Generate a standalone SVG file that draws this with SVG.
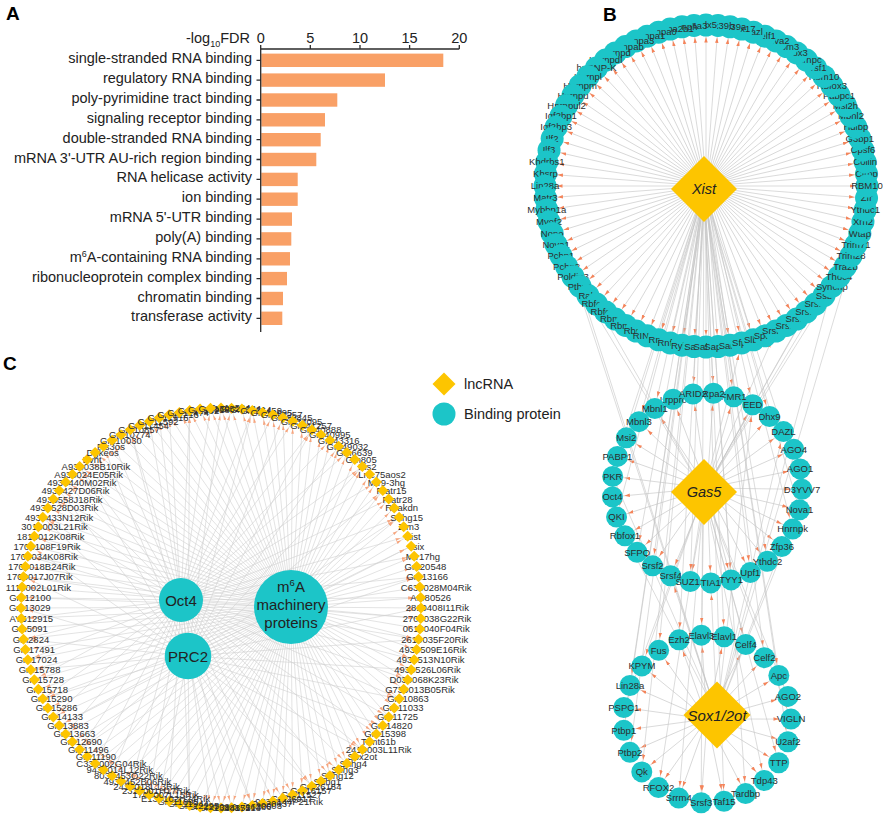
<svg xmlns="http://www.w3.org/2000/svg" width="886" height="818" viewBox="0 0 886 818">
<style>
text{font-family:"Liberation Sans",Arial,Helvetica,sans-serif;fill:#222}
.pl{font-size:19px;font-weight:bold;fill:#000}
.cat{font-size:14.5px;text-anchor:end}
.tk{font-size:14.5px;text-anchor:middle}
.bar{fill:#F9A066}
.ax{stroke:#2b2b2b;stroke-width:1.3;fill:none}
.eb path{stroke:#c4c4c4;stroke-width:.6;fill:none;marker-end:url(#ab)}
.ec path{stroke:#d0d0d0;stroke-width:.6;fill:none;marker-end:url(#ac)}
.pr circle{fill:#1CC5C8}
.pr text{font-size:9.5px;text-anchor:middle;fill:#2d2d2d}
.ln polygon{fill:#FDC500}
.ln text{font-size:14.5px;font-style:italic;text-anchor:middle;fill:#222}
.cr text{font-size:9.5px;text-anchor:middle;fill:#2d2d2d}
.cr use{fill:#FDC500}
.hub circle{fill:#1CC5C8}
.hub text{font-size:15px;text-anchor:middle;fill:#222}
.lg text{font-size:14.5px}
</style>
<defs>
<marker id="ab" markerUnits="userSpaceOnUse" markerWidth="20" markerHeight="8" viewBox="0 0 20 8" refX="17.5" refY="4" orient="auto"><path d="M0 2.3L5.5 4 0 5.7z" fill="#F4845A"/></marker>
<marker id="ac" markerUnits="userSpaceOnUse" markerWidth="20" markerHeight="8" viewBox="0 0 20 8" refX="12.5" refY="4" orient="auto"><path d="M0 2.6L5 4 0 5.4z" fill="#F6A57E"/></marker>
<path id="dm" d="M0-5.5 5.5 0 0 5.5-5.5 0z"/>
</defs>

<!-- Panel A -->
<g id="panelA">
<text class="pl" x="6" y="20">A</text>
<text class="tk" x="250" y="43" text-anchor="end" style="text-anchor:end">-log<tspan font-size="9" dy="4">10</tspan><tspan dy="-4">FDR</tspan></text>
<text class="tk" x="260.7" y="43">0</text>
<text class="tk" x="310.3" y="43">5</text>
<text class="tk" x="360" y="43">10</text>
<text class="tk" x="409.6" y="43">15</text>
<text class="tk" x="459.3" y="43">20</text>
<g id="bars">
<rect class="bar" x="261.3" y="53.6" width="182" height="13.4"/>
<rect class="bar" x="261.3" y="73.4" width="123.7" height="13.4"/>
<rect class="bar" x="261.3" y="93.3" width="76" height="13.4"/>
<rect class="bar" x="261.3" y="113.1" width="63.7" height="13.4"/>
<rect class="bar" x="261.3" y="133" width="59.4" height="13.4"/>
<rect class="bar" x="261.3" y="152.8" width="55" height="13.4"/>
<rect class="bar" x="261.3" y="172.7" width="36.4" height="13.4"/>
<rect class="bar" x="261.3" y="192.5" width="36.4" height="13.4"/>
<rect class="bar" x="261.3" y="212.4" width="30.7" height="13.4"/>
<rect class="bar" x="261.3" y="232.2" width="30" height="13.4"/>
<rect class="bar" x="261.3" y="252.1" width="28.7" height="13.4"/>
<rect class="bar" x="261.3" y="271.9" width="25.7" height="13.4"/>
<rect class="bar" x="261.3" y="291.8" width="21.7" height="13.4"/>
<rect class="bar" x="261.3" y="311.6" width="21" height="13.4"/>
</g>
<path class="ax" d="M260.7 49H459.3M260.7 49V332M260.7 49v-4M310.3 49v-4M360 49v-4M409.6 49v-4M459.3 49v-4M256.5 60.3h4.2M256.5 80.1h4.2M256.5 100h4.2M256.5 119.8h4.2M256.5 139.7h4.2M256.5 159.5h4.2M256.5 179.4h4.2M256.5 199.2h4.2M256.5 219.1h4.2M256.5 238.9h4.2M256.5 258.8h4.2M256.5 278.6h4.2M256.5 298.5h4.2M256.5 318.3h4.2"/>
<text class="cat" x="252" y="63.3">single-stranded RNA binding</text>
<text class="cat" x="252" y="83.1">regulatory RNA binding</text>
<text class="cat" x="252" y="103">poly-pyrimidine tract binding</text>
<text class="cat" x="252" y="122.8">signaling receptor binding</text>
<text class="cat" x="252" y="142.7">double-stranded RNA binding</text>
<text class="cat" x="252" y="162.5">mRNA 3'-UTR AU-rich region binding</text>
<text class="cat" x="252" y="182.4">RNA helicase activity</text>
<text class="cat" x="252" y="202.2">ion binding</text>
<text class="cat" x="252" y="222.1">mRNA 5'-UTR binding</text>
<text class="cat" x="252" y="241.9">poly(A) binding</text>
<text class="cat" x="252" y="261.8">m<tspan font-size="9" dy="-5">6</tspan><tspan dy="5">A-containing RNA binding</tspan></text>
<text class="cat" x="252" y="281.6">ribonucleoprotein complex binding</text>
<text class="cat" x="252" y="301.5">chromatin binding</text>
<text class="cat" x="252" y="321.3">transferase activity</text>
</g>

<!-- Panel B -->
<text class="pl" x="603" y="21">B</text>
<g id="connectorsB" class="eb">
<g transform="translate(706 186)">
<path d="M0 0V-161" transform="rotate(90)"/><path d="M0 0V-161" transform="rotate(94.29)"/><path d="M0 0V-161" transform="rotate(98.57)"/><path d="M0 0V-161" transform="rotate(102.86)"/><path d="M0 0V-161" transform="rotate(107.14)"/><path d="M0 0V-161" transform="rotate(111.43)"/><path d="M0 0V-161" transform="rotate(115.71)"/><path d="M0 0V-161" transform="rotate(120)"/><path d="M0 0V-161" transform="rotate(124.29)"/><path d="M0 0V-161" transform="rotate(128.57)"/><path d="M0 0V-161" transform="rotate(132.86)"/><path d="M0 0V-161" transform="rotate(137.14)"/><path d="M0 0V-161" transform="rotate(141.43)"/><path d="M0 0V-161" transform="rotate(145.71)"/><path d="M0 0V-161" transform="rotate(150)"/><path d="M0 0V-161" transform="rotate(154.29)"/><path d="M0 0V-161" transform="rotate(158.57)"/><path d="M0 0V-161" transform="rotate(162.86)"/><path d="M0 0V-161" transform="rotate(167.14)"/><path d="M0 0V-161" transform="rotate(171.43)"/><path d="M0 0V-161" transform="rotate(175.71)"/><path d="M0 0V-161" transform="rotate(180)"/><path d="M0 0V-161" transform="rotate(184.29)"/><path d="M0 0V-161" transform="rotate(188.57)"/><path d="M0 0V-161" transform="rotate(192.86)"/><path d="M0 0V-161" transform="rotate(197.14)"/><path d="M0 0V-161" transform="rotate(201.43)"/><path d="M0 0V-161" transform="rotate(205.71)"/><path d="M0 0V-161" transform="rotate(210)"/><path d="M0 0V-161" transform="rotate(214.29)"/><path d="M0 0V-161" transform="rotate(218.57)"/><path d="M0 0V-161" transform="rotate(222.86)"/><path d="M0 0V-161" transform="rotate(227.14)"/><path d="M0 0V-161" transform="rotate(231.43)"/><path d="M0 0V-161" transform="rotate(235.71)"/><path d="M0 0V-161" transform="rotate(240)"/><path d="M0 0V-161" transform="rotate(244.29)"/><path d="M0 0V-161" transform="rotate(248.57)"/><path d="M0 0V-161" transform="rotate(252.86)"/><path d="M0 0V-161" transform="rotate(257.14)"/><path d="M0 0V-161" transform="rotate(261.43)"/><path d="M0 0V-161" transform="rotate(265.71)"/><path d="M0 0V-161" transform="rotate(270)"/><path d="M0 0V-161" transform="rotate(274.29)"/><path d="M0 0V-161" transform="rotate(278.57)"/><path d="M0 0V-161" transform="rotate(282.86)"/><path d="M0 0V-161" transform="rotate(287.14)"/><path d="M0 0V-161" transform="rotate(291.43)"/><path d="M0 0V-161" transform="rotate(295.71)"/><path d="M0 0V-161" transform="rotate(300)"/><path d="M0 0V-161" transform="rotate(304.29)"/><path d="M0 0V-161" transform="rotate(308.57)"/><path d="M0 0V-161" transform="rotate(312.86)"/><path d="M0 0V-161" transform="rotate(317.14)"/><path d="M0 0V-161" transform="rotate(321.43)"/><path d="M0 0V-161" transform="rotate(325.71)"/><path d="M0 0V-161" transform="rotate(330)"/><path d="M0 0V-161" transform="rotate(334.29)"/><path d="M0 0V-161" transform="rotate(338.57)"/><path d="M0 0V-161" transform="rotate(342.86)"/><path d="M0 0V-161" transform="rotate(347.14)"/><path d="M0 0V-161" transform="rotate(351.43)"/><path d="M0 0V-161" transform="rotate(355.71)"/><path d="M0 0V-161"/><path d="M0 0V-161" transform="rotate(4.29)"/><path d="M0 0V-161" transform="rotate(8.57)"/><path d="M0 0V-161" transform="rotate(12.86)"/><path d="M0 0V-161" transform="rotate(17.14)"/><path d="M0 0V-161" transform="rotate(21.43)"/><path d="M0 0V-161" transform="rotate(25.71)"/><path d="M0 0V-161" transform="rotate(30)"/><path d="M0 0V-161" transform="rotate(34.29)"/><path d="M0 0V-161" transform="rotate(38.57)"/><path d="M0 0V-161" transform="rotate(42.86)"/><path d="M0 0V-161" transform="rotate(47.14)"/><path d="M0 0V-161" transform="rotate(51.43)"/><path d="M0 0V-161" transform="rotate(55.71)"/><path d="M0 0V-161" transform="rotate(60)"/><path d="M0 0V-161" transform="rotate(64.29)"/><path d="M0 0V-161" transform="rotate(68.57)"/><path d="M0 0V-161" transform="rotate(72.86)"/><path d="M0 0V-161" transform="rotate(77.14)"/><path d="M0 0V-161" transform="rotate(81.43)"/><path d="M0 0V-161" transform="rotate(85.71)"/>
</g>
<g transform="translate(707 488)">
<path d="M0 0V-95" transform="rotate(-8.5)"/><path d="M0 0V-95" transform="rotate(3.91)"/><path d="M0 0V-95" transform="rotate(16.33)"/><path d="M0 0V-95" transform="rotate(28.74)"/><path d="M0 0V-95" transform="rotate(41.16)"/><path d="M0 0V-95" transform="rotate(53.57)"/><path d="M0 0V-95" transform="rotate(65.98)"/><path d="M0 0V-95" transform="rotate(78.4)"/><path d="M0 0V-95" transform="rotate(90.81)"/><path d="M0 0V-95" transform="rotate(103.23)"/><path d="M0 0V-95" transform="rotate(115.64)"/><path d="M0 0V-95" transform="rotate(128.05)"/><path d="M0 0V-95" transform="rotate(140.47)"/><path d="M0 0V-95" transform="rotate(152.88)"/><path d="M0 0V-95" transform="rotate(165.3)"/><path d="M0 0V-95" transform="rotate(177.71)"/><path d="M0 0V-95" transform="rotate(190.12)"/><path d="M0 0V-95" transform="rotate(202.54)"/><path d="M0 0V-95" transform="rotate(214.95)"/><path d="M0 0V-95" transform="rotate(227.37)"/><path d="M0 0V-95" transform="rotate(239.78)"/><path d="M0 0V-95" transform="rotate(252.19)"/><path d="M0 0V-95" transform="rotate(264.61)"/><path d="M0 0V-95" transform="rotate(277.02)"/><path d="M0 0V-95" transform="rotate(289.44)"/><path d="M0 0V-95" transform="rotate(301.85)"/><path d="M0 0V-95" transform="rotate(314.26)"/><path d="M0 0V-95" transform="rotate(326.68)"/><path d="M0 0V-95" transform="rotate(339.09)"/>
</g>
<g transform="translate(707 719)">
<path d="M0 0V-84" transform="rotate(-19.5)"/><path d="M0 0V-84" transform="rotate(-3.85)"/><path d="M0 0V-84" transform="rotate(11.8)"/><path d="M0 0V-84" transform="rotate(27.46)"/><path d="M0 0V-84" transform="rotate(43.11)"/><path d="M0 0V-84" transform="rotate(58.76)"/><path d="M0 0V-84" transform="rotate(74.41)"/><path d="M0 0V-84" transform="rotate(90.06)"/><path d="M0 0V-84" transform="rotate(105.72)"/><path d="M0 0V-84" transform="rotate(121.37)"/><path d="M0 0V-84" transform="rotate(137.02)"/><path d="M0 0V-84" transform="rotate(152.67)"/><path d="M0 0V-84" transform="rotate(168.32)"/><path d="M0 0V-84" transform="rotate(183.98)"/><path d="M0 0V-84" transform="rotate(199.63)"/><path d="M0 0V-84" transform="rotate(215.28)"/><path d="M0 0V-84" transform="rotate(230.93)"/><path d="M0 0V-84" transform="rotate(246.59)"/><path d="M0 0V-84" transform="rotate(262.24)"/><path d="M0 0V-84" transform="rotate(277.89)"/><path d="M0 0V-84" transform="rotate(293.54)"/><path d="M0 0V-84" transform="rotate(309.2)"/><path d="M0 0V-84" transform="rotate(324.85)"/>
</g>
<path d="M704 189L693 394"/><path d="M704 189L713.5 393.2"/><path d="M704 189L733.7 396.8"/><path d="M704 189L752.7 404.7"/><path d="M704 189L769.5 416.5"/><path d="M704 189L783.4 431.6"/><path d="M704 189L654.8 408.6"/><path d="M704 189L639 421.7"/><path d="M704 189L626.3 437.9"/><path d="M704 189L617.4 456.4"/><path d="M704 189L792.6 529.1"/><path d="M704 189L799.5 509.7"/><path d="M704 189L767.5 561.3"/><path d="M704 189L750.3 572.6"/><path d="M704 189L731.1 579.9"/><path d="M704 189L690.3 581.5"/><path d="M704 189L652.6 565.9"/><path d="M704 189L637.1 552.4"/><path d="M704 189L616.5 517.1"/>
<path d="M704 189L724.2 636.8"/><path d="M704 189L764.4 657.7"/><path d="M704 189L658.6 650.3"/><path d="M704 189L679 639.8"/><path d="M704 189L623.8 730.3"/><path d="M704 189L629.9 752.4"/><path d="M704 189L641.8 771.9"/><path d="M704 189L701.2 802.8"/><path d="M704 189L724 801.3"/><path d="M704 189L745.6 793.6"/><path d="M704 189L787.9 741.8"/><path d="M704 189L778.8 675.4"/><path d="M704 189L630 685.4"/>
<path d="M704 492L701.4 635.2"/><path d="M704 492L745.7 644.5"/><path d="M704 492L641.9 665.9"/><path d="M704 492L623.8 707.5"/><path d="M704 492L658.5 787.6"/><path d="M704 492L778.7 762.7"/><path d="M704 492L787.9 696.4"/><path d="M704 492L791 719.1"/><path d="M704 492L764.3 780.5"/><path d="M704 492L678.8 798.1"/>
<path d="M704 492L865.2 210"/><path d="M704 492L859.9 233.4"/><path d="M704 492L845.4 266.5"/><path d="M704 492L806.4 311.9"/><path d="M704 492L741.8 343"/><path d="M704 492L596.5 304"/><path d="M704 492L561 255.9"/><path d="M704 492L775.9 331.1"/>
<path d="M717 715L710.8 582.9"/><path d="M717 715L670.6 575.7"/><path d="M717 715L781.8 546.5"/><path d="M717 715L624.9 535.8"/><path d="M717 715L612.7 476.4"/><path d="M717 715L783.4 431.6"/><path d="M717 715L799.5 509.7"/><path d="M717 715L752.7 404.7"/><path d="M717 715L831.9 286.4"/><path d="M717 715L855.9 244.8"/><path d="M717 715L580.1 286.4"/><path d="M717 715L545 186"/>
</g>

<g id="xistRing" class="pr" transform="translate(706 186)">
<g id="x83" transform="rotate(85.71) translate(0 -161) rotate(-85.71)"><circle r="11.5"/><text y="3.3">Cirbp</text></g>
<g id="x82" transform="rotate(81.43) translate(0 -161) rotate(-81.43)"><circle r="11.5"/><text y="3.3">Coilin</text></g>
<g id="x81" transform="rotate(77.14) translate(0 -161) rotate(-77.14)"><circle r="11.5"/><text y="3.3">Cpsf6</text></g>
<g id="x80" transform="rotate(72.86) translate(0 -161) rotate(-72.86)"><circle r="11.5"/><text y="3.3">G3bp1</text></g>
<g id="x79" transform="rotate(68.57) translate(0 -161) rotate(-68.57)"><circle r="11.5"/><text y="3.3">Hdlbp</text></g>
<g id="x78" transform="rotate(64.29) translate(0 -161) rotate(-64.29)"><circle r="11.5"/><text y="3.3">Mbnl2</text></g>
<g id="x77" transform="rotate(60) translate(0 -161) rotate(-60)"><circle r="11.5"/><text y="3.3">Msi2h</text></g>
<g id="x76" transform="rotate(55.71) translate(0 -161) rotate(-55.71)"><circle r="11.5"/><text y="3.3">Pabpc1</text></g>
<g id="x75" transform="rotate(51.43) translate(0 -161) rotate(-51.43)"><circle r="11.5"/><text y="3.3">Rbfox3</text></g>
<g id="x74" transform="rotate(47.14) translate(0 -161) rotate(-47.14)"><circle r="11.5"/><text y="3.3">Rbm10</text></g>
<g id="x73" transform="rotate(42.86) translate(0 -161) rotate(-42.86)"><circle r="11.5"/><text y="3.3">Srsf1</text></g>
<g id="x72" transform="rotate(38.57) translate(0 -161) rotate(-38.57)"><circle r="11.5"/><text y="3.3">Hnrnpc</text></g>
<g id="x71" transform="rotate(34.29) translate(0 -161) rotate(-34.29)"><circle r="11.5"/><text y="3.3">Cbx3</text></g>
<g id="x70" transform="rotate(30) translate(0 -161) rotate(-30)"><circle r="11.5"/><text y="3.3">Rbm3</text></g>
<g id="x69" transform="rotate(25.71) translate(0 -161) rotate(-25.71)"><circle r="11.5"/><text y="3.3">Nova2</text></g>
<g id="x68" transform="rotate(21.43) translate(0 -161) rotate(-21.43)"><circle r="11.5"/><text y="3.3">Celf1</text></g>
<g id="x67" transform="rotate(17.14) translate(0 -161) rotate(-17.14)"><circle r="11.5"/><text y="3.3">Dazl</text></g>
<g id="x66" transform="rotate(12.86) translate(0 -161) rotate(-12.86)"><circle r="11.5"/><text y="3.3">Ddx17</text></g>
<g id="x65" transform="rotate(8.57) translate(0 -161) rotate(-8.57)"><circle r="11.5"/><text y="3.3">Ddx39a</text></g>
<g id="x64" transform="rotate(4.29) translate(0 -161) rotate(-4.29)"><circle r="11.5"/><text y="3.3">Ddx39b</text></g>
<g id="x63" transform="translate(0 -161)"><circle r="11.5"/><text y="3.3">Ddx5</text></g>
<g id="x62" transform="rotate(355.71) translate(0 -161) rotate(-355.71)"><circle r="11.5"/><text y="3.3">Eif4a3</text></g>
<g id="x61" transform="rotate(351.43) translate(0 -161) rotate(-351.43)"><circle r="11.5"/><text y="3.3">Hnrnph</text></g>
<g id="x60" transform="rotate(347.14) translate(0 -161) rotate(-347.14)"><circle r="11.5"/><text y="3.3">Hnrnpa2b1</text></g>
<g id="x59" transform="rotate(342.86) translate(0 -161) rotate(-342.86)"><circle r="11.5"/><text y="3.3">Hnrnpa0</text></g>
<g id="x58" transform="rotate(338.57) translate(0 -161) rotate(-338.57)"><circle r="11.5"/><text y="3.3">Hnrnpa1</text></g>
<g id="x57" transform="rotate(334.29) translate(0 -161) rotate(-334.29)"><circle r="11.5"/><text y="3.3">Hnrnpa3</text></g>
<g id="x56" transform="rotate(330) translate(0 -161) rotate(-330)"><circle r="11.5"/><text y="3.3">Hnrnpab</text></g>
<g id="x55" transform="rotate(325.71) translate(0 -161) rotate(-325.71)"><circle r="11.5"/><text y="3.3">Hnrnpd</text></g>
<g id="x54" transform="rotate(321.43) translate(0 -161) rotate(-321.43)"><circle r="11.5"/><text y="3.3">Hnrnpdl</text></g>
<g id="x53" transform="rotate(317.14) translate(0 -161) rotate(-317.14)"><circle r="11.5"/><text y="3.3">hnRNP-K</text></g>
<g id="x52" transform="rotate(312.86) translate(0 -161) rotate(-312.86)"><circle r="11.5"/><text y="3.3">Hnrnpl</text></g>
<g id="x51" transform="rotate(308.57) translate(0 -161) rotate(-308.57)"><circle r="11.5"/><text y="3.3">Hnrnpm</text></g>
<g id="x50" transform="rotate(304.29) translate(0 -161) rotate(-304.29)"><circle r="11.5"/><text y="3.3">Hnrnpu</text></g>
<g id="x49" transform="rotate(300) translate(0 -161) rotate(-300)"><circle r="11.5"/><text y="3.3">Hnrnpul2</text></g>
<g id="x48" transform="rotate(295.71) translate(0 -161) rotate(-295.71)"><circle r="11.5"/><text y="3.3">Igf2bp1</text></g>
<g id="x47" transform="rotate(291.43) translate(0 -161) rotate(-291.43)"><circle r="11.5"/><text y="3.3">Igf2bp3</text></g>
<g id="x46" transform="rotate(287.14) translate(0 -161) rotate(-287.14)"><circle r="11.5"/><text y="3.3">Ilf2</text></g>
<g id="x45" transform="rotate(282.86) translate(0 -161) rotate(-282.86)"><circle r="11.5"/><text y="3.3">Ilf3</text></g>
<g id="x44" transform="rotate(278.57) translate(0 -161) rotate(-278.57)"><circle r="11.5"/><text y="3.3">Khdrbs1</text></g>
<g id="x43" transform="rotate(274.29) translate(0 -161) rotate(-274.29)"><circle r="11.5"/><text y="3.3">Khsrp</text></g>
<g id="x42" transform="rotate(270) translate(0 -161) rotate(-270)"><circle r="11.5"/><text y="3.3">Lin28a</text></g>
<g id="x41" transform="rotate(265.71) translate(0 -161) rotate(-265.71)"><circle r="11.5"/><text y="3.3">Matr3</text></g>
<g id="x40" transform="rotate(261.43) translate(0 -161) rotate(-261.43)"><circle r="11.5"/><text y="3.3">Mybbp1a</text></g>
<g id="x39" transform="rotate(257.14) translate(0 -161) rotate(-257.14)"><circle r="11.5"/><text y="3.3">Myef2</text></g>
<g id="x38" transform="rotate(252.86) translate(0 -161) rotate(-252.86)"><circle r="11.5"/><text y="3.3">Nono</text></g>
<g id="x37" transform="rotate(248.57) translate(0 -161) rotate(-248.57)"><circle r="11.5"/><text y="3.3">Nova1</text></g>
<g id="x36" transform="rotate(244.29) translate(0 -161) rotate(-244.29)"><circle r="11.5"/><text y="3.3">Pcbp1</text></g>
<g id="x35" transform="rotate(240) translate(0 -161) rotate(-240)"><circle r="11.5"/><text y="3.3">Pcbp2</text></g>
<g id="x34" transform="rotate(235.71) translate(0 -161) rotate(-235.71)"><circle r="11.5"/><text y="3.3">Poldip3</text></g>
<g id="x33" transform="rotate(231.43) translate(0 -161) rotate(-231.43)"><circle r="11.5"/><text y="3.3">Ptbp1</text></g>
<g id="x32" transform="rotate(227.14) translate(0 -161) rotate(-227.14)"><circle r="11.5"/><text y="3.3">Raly</text></g>
<g id="x31" transform="rotate(222.86) translate(0 -161) rotate(-222.86)"><circle r="11.5"/><text y="3.3">Rbfox1</text></g>
<g id="x30" transform="rotate(218.57) translate(0 -161) rotate(-218.57)"><circle r="11.5"/><text y="3.3">Rbfox2</text></g>
<g id="x29" transform="rotate(214.29) translate(0 -161) rotate(-214.29)"><circle r="11.5"/><text y="3.3">Rbm14</text></g>
<g id="x28" transform="rotate(210) translate(0 -161) rotate(-210)"><circle r="11.5"/><text y="3.3">Rbm15</text></g>
<g id="x27" transform="rotate(205.71) translate(0 -161) rotate(-205.71)"><circle r="11.5"/><text y="3.3">Rbmx</text></g>
<g id="x26" transform="rotate(201.43) translate(0 -161) rotate(-201.43)"><circle r="11.5"/><text y="3.3">RING1</text></g>
<g id="x25" transform="rotate(197.14) translate(0 -161) rotate(-197.14)"><circle r="11.5"/><text y="3.3">Rnf2</text></g>
<g id="x24" transform="rotate(192.86) translate(0 -161) rotate(-192.86)"><circle r="11.5"/><text y="3.3">Rnf20</text></g>
<g id="x23" transform="rotate(188.57) translate(0 -161) rotate(-188.57)"><circle r="11.5"/><text y="3.3">Rybp</text></g>
<g id="x22" transform="rotate(184.29) translate(0 -161) rotate(-184.29)"><circle r="11.5"/><text y="3.3">Safb</text></g>
<g id="x21" transform="rotate(180) translate(0 -161) rotate(-180)"><circle r="11.5"/><text y="3.3">Safb2</text></g>
<g id="x20" transform="rotate(175.71) translate(0 -161) rotate(-175.71)"><circle r="11.5"/><text y="3.3">Sap18</text></g>
<g id="x19" transform="rotate(171.43) translate(0 -161) rotate(-171.43)"><circle r="11.5"/><text y="3.3">Sart3</text></g>
<g id="x18" transform="rotate(167.14) translate(0 -161) rotate(-167.14)"><circle r="11.5"/><text y="3.3">Sfpq</text></g>
<g id="x17" transform="rotate(162.86) translate(0 -161) rotate(-162.86)"><circle r="11.5"/><text y="3.3">Slbp</text></g>
<g id="x16" transform="rotate(158.57) translate(0 -161) rotate(-158.57)"><circle r="11.5"/><text y="3.3">Spen</text></g>
<g id="x15" transform="rotate(154.29) translate(0 -161) rotate(-154.29)"><circle r="11.5"/><text y="3.3">Srsf10</text></g>
<g id="x14" transform="rotate(150) translate(0 -161) rotate(-150)"><circle r="11.5"/><text y="3.3">Srsf2</text></g>
<g id="x13" transform="rotate(145.71) translate(0 -161) rotate(-145.71)"><circle r="11.5"/><text y="3.3">Srsf3</text></g>
<g id="x12" transform="rotate(141.43) translate(0 -161) rotate(-141.43)"><circle r="11.5"/><text y="3.3">Srsf7</text></g>
<g id="x11" transform="rotate(137.14) translate(0 -161) rotate(-137.14)"><circle r="11.5"/><text y="3.3">Srsf9</text></g>
<g id="x10" transform="rotate(132.86) translate(0 -161) rotate(-132.86)"><circle r="11.5"/><text y="3.3">Ssb</text></g>
<g id="x9" transform="rotate(128.57) translate(0 -161) rotate(-128.57)"><circle r="11.5"/><text y="3.3">Syncrip</text></g>
<g id="x8" transform="rotate(124.29) translate(0 -161) rotate(-124.29)"><circle r="11.5"/><text y="3.3">Thoc4</text></g>
<g id="x7" transform="rotate(120) translate(0 -161) rotate(-120)"><circle r="11.5"/><text y="3.3">Tra2b</text></g>
<g id="x6" transform="rotate(115.71) translate(0 -161) rotate(-115.71)"><circle r="11.5"/><text y="3.3">Trim28</text></g>
<g id="x5" transform="rotate(111.43) translate(0 -161) rotate(-111.43)"><circle r="11.5"/><text y="3.3">Trim71</text></g>
<g id="x4" transform="rotate(107.14) translate(0 -161) rotate(-107.14)"><circle r="11.5"/><text y="3.3">Wtap</text></g>
<g id="x3" transform="rotate(102.86) translate(0 -161) rotate(-102.86)"><circle r="11.5"/><text y="3.3">Xrn2</text></g>
<g id="x2" transform="rotate(98.57) translate(0 -161) rotate(-98.57)"><circle r="11.5"/><text y="3.3">Ythdc1</text></g>
<g id="x1" transform="rotate(94.29) translate(0 -161) rotate(-94.29)"><circle r="11.5"/><text y="3.3">Zfr</text></g>
<g id="x0" transform="rotate(90) translate(0 -161) rotate(-90)"><circle r="11.5"/><text y="3.3">RBM10</text></g>
</g>

<g id="gas5Ring" class="pr" transform="translate(707 488)">
<g id="g28" transform="rotate(339.09) translate(0 -95) rotate(-339.09)"><circle r="10.5"/><text y="3.3">Lrpprc</text></g>
<g id="g27" transform="rotate(326.68) translate(0 -95) rotate(-326.68)"><circle r="10.5"/><text y="3.3">Mbnl1</text></g>
<g id="g26" transform="rotate(314.26) translate(0 -95) rotate(-314.26)"><circle r="10.5"/><text y="3.3">Mbnl3</text></g>
<g id="g25" transform="rotate(301.85) translate(0 -95) rotate(-301.85)"><circle r="10.5"/><text y="3.3">Msi2</text></g>
<g id="g24" transform="rotate(289.44) translate(0 -95) rotate(-289.44)"><circle r="10.5"/><text y="3.3">PABP1</text></g>
<g id="g23" transform="rotate(277.02) translate(0 -95) rotate(-277.02)"><circle r="10.5"/><text y="3.3">PKR</text></g>
<g id="g22" transform="rotate(264.61) translate(0 -95) rotate(-264.61)"><circle r="10.5"/><text y="3.3">Oct4</text></g>
<g id="g21" transform="rotate(252.19) translate(0 -95) rotate(-252.19)"><circle r="10.5"/><text y="3.3">QKI</text></g>
<g id="g20" transform="rotate(239.78) translate(0 -95) rotate(-239.78)"><circle r="10.5"/><text y="3.3">Rbfox1</text></g>
<g id="g19" transform="rotate(227.37) translate(0 -95) rotate(-227.37)"><circle r="10.5"/><text y="3.3">SFPQ</text></g>
<g id="g18" transform="rotate(214.95) translate(0 -95) rotate(-214.95)"><circle r="10.5"/><text y="3.3">Srsf2</text></g>
<g id="g17" transform="rotate(202.54) translate(0 -95) rotate(-202.54)"><circle r="10.5"/><text y="3.3">Srsf4</text></g>
<g id="g16" transform="rotate(190.12) translate(0 -95) rotate(-190.12)"><circle r="10.5"/><text y="3.3">SUZ12</text></g>
<g id="g15" transform="rotate(177.71) translate(0 -95) rotate(-177.71)"><circle r="10.5"/><text y="3.3">TIA1</text></g>
<g id="g14" transform="rotate(165.3) translate(0 -95) rotate(-165.3)"><circle r="10.5"/><text y="3.3">TYY1</text></g>
<g id="g13" transform="rotate(152.88) translate(0 -95) rotate(-152.88)"><circle r="10.5"/><text y="3.3">Upf1</text></g>
<g id="g12" transform="rotate(140.47) translate(0 -95) rotate(-140.47)"><circle r="10.5"/><text y="3.3">Ythdc2</text></g>
<g id="g11" transform="rotate(128.05) translate(0 -95) rotate(-128.05)"><circle r="10.5"/><text y="3.3">Zfp36</text></g>
<g id="g10" transform="rotate(115.64) translate(0 -95) rotate(-115.64)"><circle r="10.5"/><text y="3.3">Hnrnpk</text></g>
<g id="g9" transform="rotate(103.23) translate(0 -95) rotate(-103.23)"><circle r="10.5"/><text y="3.3">Nova1</text></g>
<g id="g8" transform="rotate(90.81) translate(0 -95) rotate(-90.81)"><circle r="10.5"/><text y="3.3">D3YVV7</text></g>
<g id="g7" transform="rotate(78.4) translate(0 -95) rotate(-78.4)"><circle r="10.5"/><text y="3.3">AGO1</text></g>
<g id="g6" transform="rotate(65.98) translate(0 -95) rotate(-65.98)"><circle r="10.5"/><text y="3.3">AGO4</text></g>
<g id="g5" transform="rotate(53.57) translate(0 -95) rotate(-53.57)"><circle r="10.5"/><text y="3.3">DAZL</text></g>
<g id="g4" transform="rotate(41.16) translate(0 -95) rotate(-41.16)"><circle r="10.5"/><text y="3.3">Dhx9</text></g>
<g id="g3" transform="rotate(28.74) translate(0 -95) rotate(-28.74)"><circle r="10.5"/><text y="3.3">EED</text></g>
<g id="g2" transform="rotate(16.33) translate(0 -95) rotate(-16.33)"><circle r="10.5"/><text y="3.3">FMR1</text></g>
<g id="g1" transform="rotate(3.91) translate(0 -95) rotate(-3.91)"><circle r="10.5"/><text y="3.3">Rpa2</text></g>
<g id="g0" transform="rotate(-8.5) translate(0 -95) rotate(8.5)"><circle r="10.5"/><text y="3.3">ARID2</text></g>
</g>

<g id="soxRing" class="pr" transform="translate(707 719)">
<g id="s22" transform="rotate(324.85) translate(0 -84) rotate(-324.85)"><circle r="10.5"/><text y="3.3">Fus</text></g>
<g id="s21" transform="rotate(309.2) translate(0 -84) rotate(-309.2)"><circle r="10.5"/><text y="3.3">KPYM</text></g>
<g id="s20" transform="rotate(293.54) translate(0 -84) rotate(-293.54)"><circle r="10.5"/><text y="3.3">Lin28a</text></g>
<g id="s19" transform="rotate(277.89) translate(0 -84) rotate(-277.89)"><circle r="10.5"/><text y="3.3">PSPC1</text></g>
<g id="s18" transform="rotate(262.24) translate(0 -84) rotate(-262.24)"><circle r="10.5"/><text y="3.3">Ptbp1</text></g>
<g id="s17" transform="rotate(246.59) translate(0 -84) rotate(-246.59)"><circle r="10.5"/><text y="3.3">Ptbp2</text></g>
<g id="s16" transform="rotate(230.93) translate(0 -84) rotate(-230.93)"><circle r="10.5"/><text y="3.3">Qk</text></g>
<g id="s15" transform="rotate(215.28) translate(0 -84) rotate(-215.28)"><circle r="10.5"/><text y="3.3">RFOX2</text></g>
<g id="s14" transform="rotate(199.63) translate(0 -84) rotate(-199.63)"><circle r="10.5"/><text y="3.3">Srrm4</text></g>
<g id="s13" transform="rotate(183.98) translate(0 -84) rotate(-183.98)"><circle r="10.5"/><text y="3.3">Srsf3</text></g>
<g id="s12" transform="rotate(168.32) translate(0 -84) rotate(-168.32)"><circle r="10.5"/><text y="3.3">Taf15</text></g>
<g id="s11" transform="rotate(152.67) translate(0 -84) rotate(-152.67)"><circle r="10.5"/><text y="3.3">Tardbp</text></g>
<g id="s10" transform="rotate(137.02) translate(0 -84) rotate(-137.02)"><circle r="10.5"/><text y="3.3">Tdp43</text></g>
<g id="s9" transform="rotate(121.37) translate(0 -84) rotate(-121.37)"><circle r="10.5"/><text y="3.3">TTP</text></g>
<g id="s8" transform="rotate(105.72) translate(0 -84) rotate(-105.72)"><circle r="10.5"/><text y="3.3">U2af2</text></g>
<g id="s7" transform="rotate(90.06) translate(0 -84) rotate(-90.06)"><circle r="10.5"/><text y="3.3">VIGLN</text></g>
<g id="s6" transform="rotate(74.41) translate(0 -84) rotate(-74.41)"><circle r="10.5"/><text y="3.3">AGO2</text></g>
<g id="s5" transform="rotate(58.76) translate(0 -84) rotate(-58.76)"><circle r="10.5"/><text y="3.3">Apc</text></g>
<g id="s4" transform="rotate(43.11) translate(0 -84) rotate(-43.11)"><circle r="10.5"/><text y="3.3">Celf2</text></g>
<g id="s3" transform="rotate(27.46) translate(0 -84) rotate(-27.46)"><circle r="10.5"/><text y="3.3">Celf4</text></g>
<g id="s2" transform="rotate(11.8) translate(0 -84) rotate(-11.8)"><circle r="10.5"/><text y="3.3">Elavl1</text></g>
<g id="s1" transform="rotate(-3.85) translate(0 -84) rotate(3.85)"><circle r="10.5"/><text y="3.3">Elavl3</text></g>
<g id="s0" transform="rotate(-19.5) translate(0 -84) rotate(19.5)"><circle r="10.5"/><text y="3.3">Ezh2</text></g>
</g>

<g class="ln">
<g id="Xist"><polygon points="704,156 737,189 704,222 671,189"/><text x="704" y="194">Xist</text></g>
<g id="Gas5"><polygon points="704,459 737,492 704,525 671,492"/><text x="704" y="497">Gas5</text></g>
<g id="Sox12ot"><polygon points="717,681.5 750.5,715 717,748.5 683.5,715"/><text x="717" y="720.5" style="font-size:15px">Sox1/2ot</text></g>
</g>

<!-- Panel C -->
<text class="pl" x="3" y="370">C</text>
<g id="connectorsC" class="ec">
<path d="M291 607L221 408"/><path d="M291 607L231.5 408.3"/><path d="M291 607L241.9 409.1"/><path d="M291 607L252.3 410.5"/><path d="M291 607L262.6 412.4"/><path d="M291 607L272.8 414.8"/><path d="M291 607L282.8 417.8"/><path d="M291 607L292.7 421.3"/><path d="M291 607L302.3 425.3"/><path d="M291 607L311.8 429.8"/><path d="M291 607L321 434.8"/><path d="M291 607L329.9 440.3"/><path d="M291 607L338.6 446.2"/><path d="M291 607L346.9 452.6"/><path d="M291 607L354.8 459.4"/><path d="M291 607L362.4 466.6"/><path d="M291 607L369.6 474.2"/><path d="M291 607L376.4 482.1"/><path d="M291 607L382.8 490.4"/><path d="M291 607L388.7 499.1"/><path d="M291 607L394.2 508"/><path d="M291 607L399.2 517.2"/><path d="M291 607L403.7 526.7"/><path d="M291 607L407.7 536.3"/><path d="M291 607L411.2 546.2"/><path d="M291 607L414.2 556.2"/><path d="M291 607L416.6 566.4"/><path d="M291 607L418.5 576.7"/><path d="M291 607L419.9 587.1"/><path d="M291 607L420.7 597.5"/><path d="M291 607L421 608"/><path d="M291 607L420.7 618.5"/><path d="M291 607L419.9 628.9"/><path d="M291 607L418.5 639.3"/><path d="M291 607L416.6 649.6"/><path d="M291 607L414.2 659.8"/><path d="M291 607L411.2 669.8"/><path d="M291 607L407.7 679.7"/><path d="M291 607L403.7 689.3"/><path d="M291 607L399.2 698.8"/><path d="M291 607L394.2 708"/><path d="M291 607L388.7 716.9"/><path d="M291 607L382.8 725.6"/><path d="M291 607L376.4 733.9"/><path d="M291 607L369.6 741.8"/><path d="M291 607L362.4 749.4"/><path d="M291 607L354.8 756.6"/><path d="M291 607L346.9 763.4"/><path d="M291 607L338.6 769.8"/><path d="M291 607L329.9 775.7"/><path d="M291 607L321 781.2"/><path d="M291 607L311.8 786.2"/><path d="M291 607L302.3 790.7"/><path d="M291 607L292.7 794.7"/><path d="M291 607L282.8 798.2"/><path d="M291 607L272.8 801.2"/><path d="M291 607L262.6 803.6"/><path d="M291 607L252.3 805.5"/><path d="M291 607L241.9 806.9"/><path d="M291 607L231.5 807.7"/><path d="M291 607L221 808"/><path d="M291 607L210.5 807.7"/><path d="M291 607L200.1 806.9"/><path d="M291 607L189.7 805.5"/><path d="M291 607L179.4 803.6"/><path d="M291 607L169.2 801.2"/><path d="M291 607L159.2 798.2"/><path d="M291 607L149.3 794.7"/><path d="M291 607L139.7 790.7"/><path d="M291 607L130.2 786.2"/><path d="M291 607L121 781.2"/><path d="M291 607L112.1 775.7"/><path d="M291 607L103.4 769.8"/><path d="M291 607L95.1 763.4"/><path d="M291 607L87.2 756.6"/><path d="M291 607L79.6 749.4"/><path d="M291 607L72.4 741.8"/><path d="M291 607L65.6 733.9"/><path d="M291 607L59.2 725.6"/><path d="M291 607L53.3 716.9"/><path d="M291 607L47.8 708"/><path d="M291 607L42.8 698.8"/><path d="M291 607L38.3 689.3"/><path d="M291 607L34.3 679.7"/><path d="M291 607L30.8 669.8"/><path d="M291 607L27.8 659.8"/><path d="M291 607L25.4 649.6"/><path d="M291 607L23.5 639.3"/><path d="M291 607L22.1 628.9"/><path d="M291 607L21.3 618.5"/><path d="M291 607L21 608"/><path d="M291 607L21.3 597.5"/><path d="M291 607L22.1 587.1"/><path d="M291 607L23.5 576.7"/><path d="M291 607L25.4 566.4"/><path d="M291 607L27.8 556.2"/><path d="M291 607L30.8 546.2"/><path d="M291 607L34.3 536.3"/><path d="M291 607L38.3 526.7"/><path d="M291 607L42.8 517.2"/><path d="M291 607L47.8 508"/><path d="M291 607L53.3 499.1"/><path d="M291 607L59.2 490.4"/><path d="M291 607L65.6 482.1"/><path d="M291 607L72.4 474.2"/><path d="M291 607L79.6 466.6"/><path d="M291 607L87.2 459.4"/><path d="M291 607L95.1 452.6"/><path d="M291 607L103.4 446.2"/><path d="M291 607L112.1 440.3"/><path d="M291 607L121 434.8"/><path d="M291 607L130.2 429.8"/><path d="M291 607L139.7 425.3"/><path d="M291 607L149.3 421.3"/><path d="M291 607L159.2 417.8"/><path d="M291 607L169.2 414.8"/><path d="M291 607L179.4 412.4"/><path d="M291 607L189.7 410.5"/><path d="M291 607L200.1 409.1"/><path d="M291 607L210.5 408.3"/>
<path d="M181 600L231.5 408.3"/><path d="M181 600L252.3 410.5"/><path d="M181 600L272.8 414.8"/><path d="M181 600L292.7 421.3"/><path d="M181 600L311.8 429.8"/><path d="M181 600L329.9 440.3"/><path d="M181 600L346.9 452.6"/><path d="M181 600L362.4 466.6"/><path d="M181 600L376.4 482.1"/><path d="M181 600L388.7 499.1"/><path d="M181 600L399.2 517.2"/><path d="M181 600L407.7 536.3"/><path d="M181 600L414.2 556.2"/><path d="M181 600L418.5 576.7"/><path d="M181 600L420.7 597.5"/><path d="M181 600L420.7 618.5"/><path d="M181 600L418.5 639.3"/><path d="M181 600L414.2 659.8"/><path d="M181 600L407.7 679.7"/><path d="M181 600L399.2 698.8"/><path d="M181 600L388.7 716.9"/><path d="M181 600L376.4 733.9"/><path d="M181 600L362.4 749.4"/><path d="M181 600L346.9 763.4"/><path d="M181 600L329.9 775.7"/><path d="M181 600L311.8 786.2"/><path d="M181 600L292.7 794.7"/><path d="M181 600L272.8 801.2"/><path d="M181 600L252.3 805.5"/><path d="M181 600L231.5 807.7"/><path d="M181 600L210.5 807.7"/><path d="M181 600L189.7 805.5"/><path d="M181 600L169.2 801.2"/><path d="M181 600L149.3 794.7"/><path d="M181 600L130.2 786.2"/><path d="M181 600L112.1 775.7"/><path d="M181 600L95.1 763.4"/><path d="M181 600L79.6 749.4"/><path d="M181 600L65.6 733.9"/><path d="M181 600L53.3 716.9"/><path d="M181 600L42.8 698.8"/><path d="M181 600L34.3 679.7"/><path d="M181 600L27.8 659.8"/><path d="M181 600L23.5 639.3"/><path d="M181 600L21.3 618.5"/><path d="M181 600L21.3 597.5"/><path d="M181 600L23.5 576.7"/><path d="M181 600L27.8 556.2"/><path d="M181 600L34.3 536.3"/><path d="M181 600L42.8 517.2"/><path d="M181 600L53.3 499.1"/><path d="M181 600L65.6 482.1"/><path d="M181 600L79.6 466.6"/><path d="M181 600L95.1 452.6"/><path d="M181 600L112.1 440.3"/><path d="M181 600L130.2 429.8"/><path d="M181 600L149.3 421.3"/><path d="M181 600L169.2 414.8"/><path d="M181 600L189.7 410.5"/><path d="M181 600L210.5 408.3"/>
<path d="M188 656L221 408"/><path d="M188 656L252.3 410.5"/><path d="M188 656L282.8 417.8"/><path d="M188 656L311.8 429.8"/><path d="M188 656L338.6 446.2"/><path d="M188 656L362.4 466.6"/><path d="M188 656L382.8 490.4"/><path d="M188 656L399.2 517.2"/><path d="M188 656L411.2 546.2"/><path d="M188 656L418.5 576.7"/><path d="M188 656L421 608"/><path d="M188 656L418.5 639.3"/><path d="M188 656L411.2 669.8"/><path d="M188 656L399.2 698.8"/><path d="M188 656L382.8 725.6"/><path d="M188 656L362.4 749.4"/><path d="M188 656L338.6 769.8"/><path d="M188 656L311.8 786.2"/><path d="M188 656L282.8 798.2"/><path d="M188 656L252.3 805.5"/><path d="M188 656L221 808"/><path d="M188 656L189.7 805.5"/><path d="M188 656L159.2 798.2"/><path d="M188 656L130.2 786.2"/><path d="M188 656L103.4 769.8"/><path d="M188 656L79.6 749.4"/><path d="M188 656L59.2 725.6"/><path d="M188 656L42.8 698.8"/><path d="M188 656L30.8 669.8"/><path d="M188 656L23.5 639.3"/><path d="M188 656L21 608"/><path d="M188 656L23.5 576.7"/><path d="M188 656L30.8 546.2"/><path d="M188 656L42.8 517.2"/><path d="M188 656L59.2 490.4"/><path d="M188 656L79.6 466.6"/><path d="M188 656L103.4 446.2"/><path d="M188 656L130.2 429.8"/><path d="M188 656L159.2 417.8"/><path d="M188 656L189.7 410.5"/>
</g>

<g class="hub">
<g id="Oct4"><circle cx="181" cy="600" r="22"/><text x="181" y="605.5">Oct4</text></g>
<g id="PRC2"><circle cx="188" cy="656" r="23.3"/><text x="188" y="661.5">PRC2</text></g>
<g id="m6A"><circle cx="291" cy="607" r="37"/><text x="291" y="592">m<tspan font-size="9.5" dy="-6">6</tspan><tspan dy="6">A</tspan></text><text x="291" y="610">machinery</text><text x="291" y="628">proteins</text></g>
</g>

<g id="lncRing" class="cr">
<g id="c0"><text x="229.8" y="411.4">Gm13524</text><use href="#dm" x="221" y="408"/></g>
<g id="c1"><text x="240.3" y="411.7">Gm14034</text><use href="#dm" x="231.5" y="408.3"/></g>
<g id="c2"><text x="250.7" y="412.5">Gm14214</text><use href="#dm" x="241.9" y="409.1"/></g>
<g id="c3"><text x="261.1" y="413.9">Gm15459</text><use href="#dm" x="252.3" y="410.5"/></g>
<g id="c4"><text x="271.4" y="415.8">Gm16095</text><use href="#dm" x="262.6" y="412.4"/></g>
<g id="c5"><text x="281.6" y="418.2">Gm17257</text><use href="#dm" x="272.8" y="414.8"/></g>
<g id="c6"><text x="291.6" y="421.2">Gm20845</text><use href="#dm" x="282.8" y="417.8"/></g>
<g id="c7"><text x="301.5" y="424.7">Gm34095</text><use href="#dm" x="292.7" y="421.3"/></g>
<g id="c8"><text x="311.1" y="428.7">Gm41257</text><use href="#dm" x="302.3" y="425.3"/></g>
<g id="c9"><text x="320.6" y="433.2">Gm40888</text><use href="#dm" x="311.8" y="429.8"/></g>
<g id="c10"><text x="329.8" y="438.2">Gm40995</text><use href="#dm" x="321" y="434.8"/></g>
<g id="c11"><text x="338.7" y="443.7">Gm43316</text><use href="#dm" x="329.9" y="440.3"/></g>
<g id="c12"><text x="347.4" y="449.6">Gm49032</text><use href="#dm" x="338.6" y="446.2"/></g>
<g id="c13"><text x="354.4" y="456">Gm6639</text><use href="#dm" x="346.9" y="452.6"/></g>
<g id="c14"><text x="361.1" y="462.8">Gm805</text><use href="#dm" x="354.8" y="459.4"/></g>
<g id="c15"><text x="367.4" y="470">Kis2</text><use href="#dm" x="362.4" y="466.6"/></g>
<g id="c16"><text x="382.1" y="477.6">Lrrc75aos2</text><use href="#dm" x="369.6" y="474.2"/></g>
<g id="c17"><text x="386.4" y="485.5">Mir9-3hg</text><use href="#dm" x="376.4" y="482.1"/></g>
<g id="c18"><text x="391.6" y="493.8">Platr15</text><use href="#dm" x="382.8" y="490.4"/></g>
<g id="c19"><text x="397.5" y="502.5">Platr28</text><use href="#dm" x="388.7" y="499.1"/></g>
<g id="c20"><text x="401.7" y="511.4">Rbakdn</text><use href="#dm" x="394.2" y="508"/></g>
<g id="c21"><text x="406.7" y="520.6">Snhg15</text><use href="#dm" x="399.2" y="517.2"/></g>
<g id="c22"><text x="408.7" y="530.1">Zim3</text><use href="#dm" x="403.7" y="526.7"/></g>
<g id="c23"><text x="412.7" y="539.7">Xist</text><use href="#dm" x="407.7" y="536.3"/></g>
<g id="c24"><text x="416.2" y="549.6">Tsix</text><use href="#dm" x="411.2" y="546.2"/></g>
<g id="c25"><text x="423" y="559.6">Mir17hg</text><use href="#dm" x="414.2" y="556.2"/></g>
<g id="c26"><text x="425.4" y="569.8">Gm20548</text><use href="#dm" x="416.6" y="566.4"/></g>
<g id="c27"><text x="427.3" y="580.1">Gm13166</text><use href="#dm" x="418.5" y="576.7"/></g>
<g id="c28"><text x="436.2" y="590.5">C630028M04Rik</text><use href="#dm" x="419.9" y="587.1"/></g>
<g id="c29"><text x="430.7" y="600.9">AI480526</text><use href="#dm" x="420.7" y="597.5"/></g>
<g id="c30"><text x="437.3" y="611.4">2810408I11Rik</text><use href="#dm" x="421" y="608"/></g>
<g id="c31"><text x="437" y="621.9">2700038G22Rik</text><use href="#dm" x="420.7" y="618.5"/></g>
<g id="c32"><text x="436.2" y="632.3">0610040F04Rik</text><use href="#dm" x="419.9" y="628.9"/></g>
<g id="c33"><text x="434.8" y="642.7">2610035F20Rik</text><use href="#dm" x="418.5" y="639.3"/></g>
<g id="c34"><text x="432.9" y="653">4930509E16Rik</text><use href="#dm" x="416.6" y="649.6"/></g>
<g id="c35"><text x="430.5" y="663.2">4930513N10Rik</text><use href="#dm" x="414.2" y="659.8"/></g>
<g id="c36"><text x="427.5" y="673.2">4930526L06Rik</text><use href="#dm" x="411.2" y="669.8"/></g>
<g id="c37"><text x="424" y="683.1">D030068K23Rik</text><use href="#dm" x="407.7" y="679.7"/></g>
<g id="c38"><text x="420" y="692.7">G730013B05Rik</text><use href="#dm" x="403.7" y="689.3"/></g>
<g id="c39"><text x="408" y="702.2">Gm10863</text><use href="#dm" x="399.2" y="698.8"/></g>
<g id="c40"><text x="403" y="711.4">Gm11033</text><use href="#dm" x="394.2" y="708"/></g>
<g id="c41"><text x="397.5" y="720.3">Gm11725</text><use href="#dm" x="388.7" y="716.9"/></g>
<g id="c42"><text x="391.6" y="729">Gm14820</text><use href="#dm" x="382.8" y="725.6"/></g>
<g id="c43"><text x="385.2" y="737.3">Gm15398</text><use href="#dm" x="376.4" y="733.9"/></g>
<g id="c44"><text x="378.4" y="745.2">Trmt61b</text><use href="#dm" x="369.6" y="741.8"/></g>
<g id="c45"><text x="378.7" y="752.8">2410003L11Rik</text><use href="#dm" x="362.4" y="749.4"/></g>
<g id="c46"><text x="362.3" y="760">Sox2ot</text><use href="#dm" x="354.8" y="756.6"/></g>
<g id="c47"><text x="353.2" y="766.8">Snhg4</text><use href="#dm" x="346.9" y="763.4"/></g>
<g id="c48"><text x="344.9" y="773.2">Snhg3</text><use href="#dm" x="338.6" y="769.8"/></g>
<g id="c49"><text x="337.4" y="779.1">Snhg12</text><use href="#dm" x="329.9" y="775.7"/></g>
<g id="c50"><text x="327.3" y="784.6">Snhg1</text><use href="#dm" x="321" y="781.2"/></g>
<g id="c51"><text x="320.6" y="789.6">Gm26164</text><use href="#dm" x="311.8" y="786.2"/></g>
<g id="c52"><text x="311.1" y="794.1">Gm16157</text><use href="#dm" x="302.3" y="790.7"/></g>
<g id="c53"><text x="301.5" y="798.1">Gm11527</text><use href="#dm" x="292.7" y="794.7"/></g>
<g id="c54"><text x="291.6" y="801.6">Gm26917</text><use href="#dm" x="282.8" y="798.2"/></g>
<g id="c55"><text x="289.1" y="804.6">9830144P21Rik</text><use href="#dm" x="272.8" y="801.2"/></g>
<g id="c56"><text x="271.4" y="807">Gm20037</text><use href="#dm" x="262.6" y="803.6"/></g>
<g id="c57"><text x="261.1" y="808.9">Gm20003</text><use href="#dm" x="252.3" y="805.5"/></g>
<g id="c58"><text x="250.7" y="810.3">Gm16386</text><use href="#dm" x="241.9" y="806.9"/></g>
<g id="c59"><text x="240.3" y="811.1">Gm15513</text><use href="#dm" x="231.5" y="807.7"/></g>
<g id="c60"><text x="229.8" y="811.4">Gm14872</text><use href="#dm" x="221" y="808"/></g>
<g id="c61"><text x="219.3" y="811.1">Gm13481</text><use href="#dm" x="210.5" y="807.7"/></g>
<g id="c62"><text x="208.9" y="810.3">Gm12709</text><use href="#dm" x="200.1" y="806.9"/></g>
<g id="c63"><text x="198.5" y="808.9">Gm12295</text><use href="#dm" x="189.7" y="805.5"/></g>
<g id="c64"><text x="188.2" y="807">Gm11944</text><use href="#dm" x="179.4" y="803.6"/></g>
<g id="c65"><text x="178" y="804.6">Gm11695</text><use href="#dm" x="169.2" y="801.2"/></g>
<g id="c66"><text x="175.5" y="801.6">E130102H24Rik</text><use href="#dm" x="159.2" y="798.2"/></g>
<g id="c67"><text x="165.6" y="798.1">1700007L15Rik</text><use href="#dm" x="149.3" y="794.7"/></g>
<g id="c68"><text x="156" y="794.1">2310001H17Rik</text><use href="#dm" x="139.7" y="790.7"/></g>
<g id="c69"><text x="146.5" y="789.6">2410018L13Rik</text><use href="#dm" x="130.2" y="786.2"/></g>
<g id="c70"><text x="137.3" y="784.6">4930452B06Rik</text><use href="#dm" x="121" y="781.2"/></g>
<g id="c71"><text x="128.4" y="779.1">8030453O22Rik</text><use href="#dm" x="112.1" y="775.7"/></g>
<g id="c72"><text x="119.7" y="773.2">9430014L12Rik</text><use href="#dm" x="103.4" y="769.8"/></g>
<g id="c73"><text x="111.4" y="766.8">C330002G04Rik</text><use href="#dm" x="95.1" y="763.4"/></g>
<g id="c74"><text x="96" y="760">Gm11190</text><use href="#dm" x="87.2" y="756.6"/></g>
<g id="c75"><text x="88.4" y="752.8">Gm11496</text><use href="#dm" x="79.6" y="749.4"/></g>
<g id="c76"><text x="81.2" y="745.2">Gm12690</text><use href="#dm" x="72.4" y="741.8"/></g>
<g id="c77"><text x="74.4" y="737.3">Gm13663</text><use href="#dm" x="65.6" y="733.9"/></g>
<g id="c78"><text x="68" y="729">Gm13883</text><use href="#dm" x="59.2" y="725.6"/></g>
<g id="c79"><text x="62.1" y="720.3">Gm14133</text><use href="#dm" x="53.3" y="716.9"/></g>
<g id="c80"><text x="56.6" y="711.4">Gm15286</text><use href="#dm" x="47.8" y="708"/></g>
<g id="c81"><text x="51.6" y="702.2">Gm15290</text><use href="#dm" x="42.8" y="698.8"/></g>
<g id="c82"><text x="47.1" y="692.7">Gm15718</text><use href="#dm" x="38.3" y="689.3"/></g>
<g id="c83"><text x="43.1" y="683.1">Gm15728</text><use href="#dm" x="34.3" y="679.7"/></g>
<g id="c84"><text x="39.6" y="673.2">Gm15788</text><use href="#dm" x="30.8" y="669.8"/></g>
<g id="c85"><text x="36.6" y="663.2">Gm17024</text><use href="#dm" x="27.8" y="659.8"/></g>
<g id="c86"><text x="34.2" y="653">Gm17491</text><use href="#dm" x="25.4" y="649.6"/></g>
<g id="c87"><text x="31" y="642.7">Gm2824</text><use href="#dm" x="23.5" y="639.3"/></g>
<g id="c88"><text x="29.6" y="632.3">Gm5091</text><use href="#dm" x="22.1" y="628.9"/></g>
<g id="c89"><text x="31.3" y="621.9">AY512915</text><use href="#dm" x="21.3" y="618.5"/></g>
<g id="c90"><text x="29.8" y="611.4">Gm13029</text><use href="#dm" x="21" y="608"/></g>
<g id="c91"><text x="30.1" y="600.9">Gm12100</text><use href="#dm" x="21.3" y="597.5"/></g>
<g id="c92"><text x="38.4" y="590.5">1110002L01Rik</text><use href="#dm" x="22.1" y="587.1"/></g>
<g id="c93"><text x="39.8" y="580.1">1700017J07Rik</text><use href="#dm" x="23.5" y="576.7"/></g>
<g id="c94"><text x="41.7" y="569.8">1700018B24Rik</text><use href="#dm" x="25.4" y="566.4"/></g>
<g id="c95"><text x="44.1" y="559.6">1700034K08Rik</text><use href="#dm" x="27.8" y="556.2"/></g>
<g id="c96"><text x="47.1" y="549.6">1700108F19Rik</text><use href="#dm" x="30.8" y="546.2"/></g>
<g id="c97"><text x="50.6" y="539.7">1810012K08Rik</text><use href="#dm" x="34.3" y="536.3"/></g>
<g id="c98"><text x="54.6" y="530.1">3010003L21Rik</text><use href="#dm" x="38.3" y="526.7"/></g>
<g id="c99"><text x="59.1" y="520.6">4930433N12Rik</text><use href="#dm" x="42.8" y="517.2"/></g>
<g id="c100"><text x="64.1" y="511.4">4930528D03Rik</text><use href="#dm" x="47.8" y="508"/></g>
<g id="c101"><text x="69.6" y="502.5">4930558J18Rik</text><use href="#dm" x="53.3" y="499.1"/></g>
<g id="c102"><text x="75.5" y="493.8">4933427D06Rik</text><use href="#dm" x="59.2" y="490.4"/></g>
<g id="c103"><text x="81.9" y="485.5">4933440M02Rik</text><use href="#dm" x="65.6" y="482.1"/></g>
<g id="c104"><text x="88.7" y="477.6">A930024E05Rik</text><use href="#dm" x="72.4" y="474.2"/></g>
<g id="c105"><text x="95.9" y="470">A930038B10Rik</text><use href="#dm" x="79.6" y="466.6"/></g>
<g id="c106"><text x="92.2" y="462.8">Bvht</text><use href="#dm" x="87.2" y="459.4"/></g>
<g id="c107"><text x="102.6" y="456">Dgkeos</text><use href="#dm" x="95.1" y="452.6"/></g>
<g id="c108"><text x="110.9" y="449.6">Fis3os</text><use href="#dm" x="103.4" y="446.2"/></g>
<g id="c109"><text x="120.9" y="443.7">Gm10030</text><use href="#dm" x="112.1" y="440.3"/></g>
<g id="c110"><text x="129.8" y="438.2">Gm10774</text><use href="#dm" x="121" y="434.8"/></g>
<g id="c111"><text x="139" y="433.2">Gm10857</text><use href="#dm" x="130.2" y="429.8"/></g>
<g id="c112"><text x="148.5" y="428.7">Gm11454</text><use href="#dm" x="139.7" y="425.3"/></g>
<g id="c113"><text x="158.1" y="424.7">Gm11592</text><use href="#dm" x="149.3" y="421.3"/></g>
<g id="c114"><text x="168" y="421.2">Gm11916</text><use href="#dm" x="159.2" y="417.8"/></g>
<g id="c115"><text x="178" y="418.2">Gm12216</text><use href="#dm" x="169.2" y="414.8"/></g>
<g id="c116"><text x="188.2" y="415.8">Gm12474</text><use href="#dm" x="179.4" y="412.4"/></g>
<g id="c117"><text x="198.5" y="413.9">Gm12592</text><use href="#dm" x="189.7" y="410.5"/></g>
<g id="c118"><text x="208.9" y="412.5">Gm12918</text><use href="#dm" x="200.1" y="409.1"/></g>
<g id="c119"><text x="219.3" y="411.7">Gm13052</text><use href="#dm" x="210.5" y="408.3"/></g>
</g>

<g id="legend" class="lg">
<g id="lg-lnc"><polygon points="444,372.5 455.5,384 444,395.5 432.5,384" fill="#FDC500"/><text x="464" y="389">lncRNA</text></g>
<g id="lg-bp"><circle cx="444" cy="414" r="11.5" fill="#1CC5C8"/><text x="464" y="419">Binding protein</text></g>
</g>
</svg>
